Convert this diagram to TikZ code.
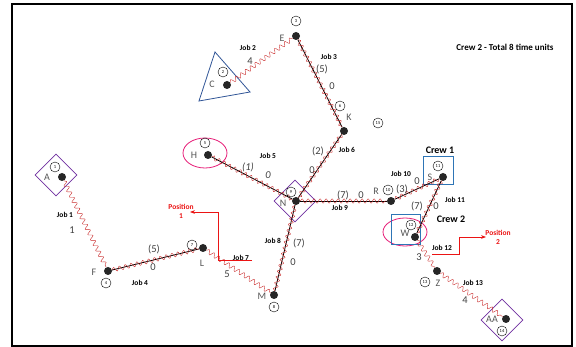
\documentclass[tikz,border=0pt]{standalone}
\usepackage{fontspec}
\setmainfont{Carlito}
\usetikzlibrary{arrows.meta,positioning,shapes.geometric,decorations.pathmorphing}
\definecolor{crPurple}{RGB}{112,48,160}
\definecolor{crBlue}{RGB}{46,117,182}
\definecolor{crNavy}{RGB}{47,84,150}
\definecolor{crPink}{RGB}{230,30,120}
\definecolor{crRed}{RGB}{235,20,20}
\definecolor{crWave}{RGB}{200,40,40}
\definecolor{crGray}{RGB}{85,85,85}

\begin{document}
\begin{tikzpicture}[x=1pt,y=-1pt,
      dot/.style={circle,fill=black!85,inner sep=0pt,minimum size=8pt},
      num/.style={circle,draw,thin,inner sep=0pt,minimum size=10pt,font=\fontsize{4.5}{5}\selectfont},
      let/.style={font=\fontsize{10}{10}\selectfont,text=crGray},
      job/.style={font=\bfseries\fontsize{7.5}{8}\selectfont},
      val/.style={font=\fontsize{10.5}{11}\selectfont,text=black!75},
      wave/.style={draw=crWave,decorate,decoration={snake,amplitude=2.2pt,segment length=6pt}},
      link/.style={draw,thick},
      site/.style={diamond,draw=crPurple,thick,minimum size=42pt,inner sep=0pt},
      crewbox/.style={draw=crBlue,thick,inner sep=0pt},
      ring/.style={ellipse,draw=crPink,thick,inner sep=0pt},
      parr/.style={draw=crRed,thick,-{Stealth[length=5pt]}},
      ptxt/.style={text=crRed,font=\bfseries\fontsize{7.5}{9}\selectfont,align=center}]
    \useasboundingbox (0,0) rectangle (576,347);
    \draw[line width=2pt] (12,4) rectangle (572,346);

    % marked sites
    \node[site] (siteA) at (56,175) {};
    \node[site] (siteN) at (295,201) {};
    \node[site] (siteAA) at (502,320) {};
    \draw[crNavy,thick] (215,52) -- (199,101) -- (250,92) -- cycle;
    \node[ring,minimum width=44pt,minimum height=30pt] (ringH) at (205,153) {};
    \node[ring,minimum width=44pt,minimum height=28pt] (ringW) at (405,232) {};
    \node[crewbox,minimum width=30pt,minimum height=28pt] (boxS) at (438,170) {};
    \node[crewbox,minimum width=29pt,minimum height=30pt] (boxW) at (406,229) {};

    % points
    \node[dot] (A) at (62,177) {};
    \node[dot] (C) at (227,85) {};
    \node[dot] (E) at (296,36) {};
    \node[dot] (F) at (108,271) {};
    \node[dot] (H) at (208,155) {};
    \node[dot] (K) at (344,131) {};
    \node[dot] (L) at (203,248) {};
    \node[dot] (M) at (274,295) {};
    \node[dot] (N) at (296,201) {};
    \node[dot] (R) at (391,201) {};
    \node[dot] (S) at (443,177) {};
    \node[dot] (W) at (415,237) {};
    \node[dot] (Z) at (437,271) {};
    \node[dot] (AA) at (506,319) {};

    % straight links
    \draw[link] (F) -- (L);
    \draw[link] (M) -- (N);
    \draw[link] (N) -- (H);
    \draw[link] (N) -- (K);
    \draw[link] (K) -- (E);
    \draw[link] (N) -- (R);
    \draw[link] (R) -- (S);
    \draw[link] (S) -- (W);

    % red jobs
    \draw[wave] (A) -- (F);
    \draw[wave] (C) -- (E);
    \draw[wave] (E) -- (K);
    \draw[wave] (F) -- (L);
    \draw[wave] (H) -- (N);
    \draw[wave] (K) -- (N);
    \draw[wave] (L) -- (M);
    \draw[wave] (M) -- (N);
    \draw[wave] (N) -- (R);
    \draw[wave] (R) -- (S);
    \draw[wave] (S) -- (W);
    \draw[wave] (W) -- (Z);
    \draw[wave] (Z) -- (AA);

    % point letters
    \node[let] (lA) at (47,177) {A};
    \node[let] (lC) at (212,84) {C};
    \node[let] (lE) at (282,38) {E};
    \node[let] (lF) at (94,272) {F};
    \node[let] (lH) at (194,155) {H};
    \node[let] (lK) at (349,117) {K};
    \node[let] (lL) at (202,263) {L};
    \node[let] (lM) at (262,296) {M};
    \node[let] (lN) at (283,203) {N};
    \node[let] (lR) at (376,191) {R};
    \node[let] (lS) at (430,177) {S};
    \node[let] (lW) at (405,233) {W};
    \node[let] (lZ) at (438,283) {Z};
    \node[let] (lAA) at (492,319) {AA};

    % circled numbers
    \node[num] (n1) at (55,167) {1};
    \node[num] (n2) at (223,72) {2};
    \node[num] (n3) at (296,21) {3};
    \node[num] (n4) at (106,283) {4};
    \node[num] (n5) at (205,143) {5};
    \node[num] (n6) at (340,106) {6};
    \node[num] (n7) at (192,245) {7};
    \node[num] (n8) at (274,307) {8};
    \node[num] (n9) at (291,192) {9};
    \node[num] (n10) at (388,190) {10};
    \node[num] (n11) at (438,166) {11};
    \node[num] (n12) at (411,225) {12};
    \node[num] (n13) at (425,282) {13};
    \node[num] (n14) at (502,331) {14};
    \node[num] (n15) at (378,123) {15};

    % job labels
    \node[job] (j1) at (65,215) {Job 1};
    \node[val] (v1) at (72,230) {1};
    \node[job] (j2) at (248,48) {Job 2};
    \node[val] (v2) at (250,61) {4};
    \node[job] (j3) at (329,57) {Job 3};
    \node[val] (d3) at (322,69) {(5)};
    \node[val] (v3) at (332,86) {0};
    \node[job] (j4) at (140,283) {Job 4};
    \node[val] (d4) at (154,249) {(5)};
    \node[val] (v4) at (153,267) {0};
    \node[job] (j5) at (268,156) {Job 5};
    \node[val,font=\itshape\fontsize{10.5}{11}\selectfont] (d5) at (248,167) {(1)};
    \node[val,font=\itshape\fontsize{10.5}{11}\selectfont] (v5) at (268,175) {0};
    \node[job] (j6) at (347,150) {Job 6};
    \node[val] (d6) at (318,151) {(2)};
    \node[val] (v6) at (312,170) {0};
    \node[job] (j7) at (241,258) {Job 7};
    \node[val] (v7) at (227,274) {5};
    \node[job] (j8) at (273,241) {Job 8};
    \node[val] (d8) at (299,243) {(7)};
    \node[val] (v8) at (293,262) {0};
    \node[job] (j9) at (340,208) {Job 9};
    \node[val] (d9) at (343,195) {(7)};
    \node[val] (v9) at (361,195) {0};
    \node[job] (j10) at (401,174) {Job 10};
    \node[val] (d10) at (402,189) {(3)};
    \node[val] (v10) at (417,181) {0};
    \node[job] (j11) at (455,200) {Job 11};
    \node[val] (d11) at (417,206) {(7)};
    \node[val] (v11) at (436,206) {0};
    \node[job] (j12) at (442,248) {Job 12};
    \node[val] (v12) at (419,257) {3};
    \node[job] (j13) at (473,283) {Job 13};
    \node[val] (v13) at (465,300) {4};

    % crews and title
    \node[font=\bfseries\fontsize{10}{10}\selectfont] (crew1) at (440,150) {Crew 1};
    \node[font=\bfseries\fontsize{10}{10}\selectfont] (crew2) at (451,219) {Crew 2};
    \node[font=\bfseries\fontsize{9}{9}\selectfont] (title) at (505,47) {Crew 2 - Total 8 time units};

    % positions
    \node[ptxt] (pos1) at (181,211) {Position\\1};
    \node[ptxt] (pos2) at (498,237) {Position\\2};
    \coordinate (p1s) at (252,260);
    \coordinate (p1k) at (218,212);
    \coordinate (p1e) at (190,212);
    \draw[parr] (p1s) -| (p1k) -- (p1e);
    \coordinate (p2s) at (432,254);
    \coordinate (p2k) at (459,237);
    \coordinate (p2e) at (486,237);
    \draw[parr] (p2s) -| (p2k) -- (p2e);
  \end{tikzpicture}
\end{document}
